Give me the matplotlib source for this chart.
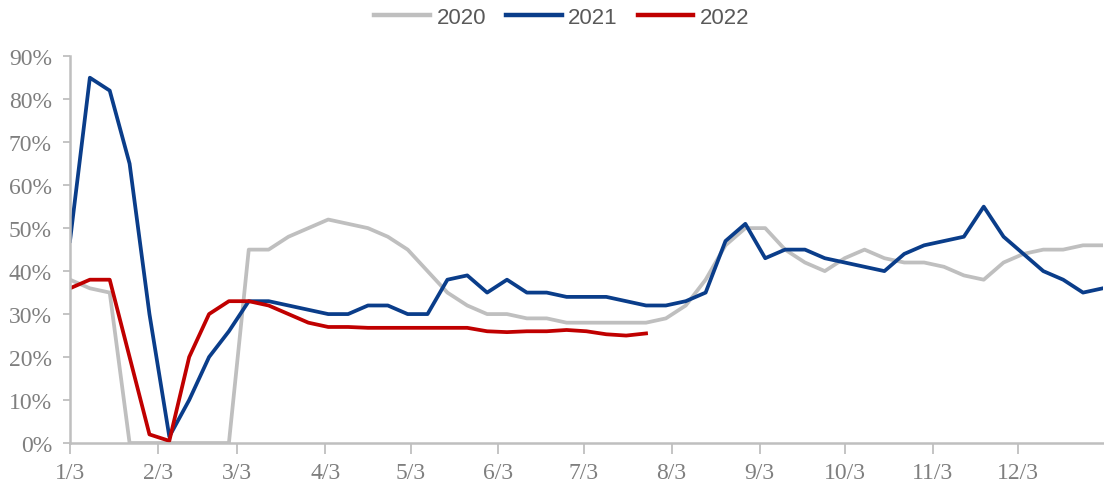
import matplotlib.pyplot as plt
import numpy as np

# weekly points, day 0 = Jan 3
y2020 = [38, 36, 35, 0, 0, 0, 0, 0, 0, 45, 45, 48, 50, 52, 51, 50, 48, 45, 40, 35,
         32, 30, 30, 29, 29, 28, 28, 28, 28, 28, 29, 32, 38, 46, 50, 50, 45, 42, 40, 43,
         45, 43, 42, 42, 41, 39, 38, 42, 44, 45, 45, 46, 46]
y2021 = [47, 85, 82, 65, 30, 1.5, 10, 20, 26, 33, 33, 32, 31, 30, 30, 32, 32, 30, 30, 38,
         39, 35, 38, 35, 35, 34, 34, 34, 33, 32, 32, 33, 35, 47, 51, 43, 45, 45, 43, 42,
         41, 40, 44, 46, 47, 48, 55, 48, 44, 40, 38, 35, 36]
y2022 = [36, 38, 38, 20, 2, 0.5, 20, 30, 33, 33, 32, 30, 28, 27, 27, 26.8, 26.8, 26.8, 26.8, 26.8,
         26.8, 26, 25.8, 26, 26, 26.3, 26, 25.3, 25, 25.5]

tick_days = [0, 31, 59, 90, 120, 151, 181, 212, 243, 273, 304, 334]
tick_labels = ['1/3', '2/3', '3/3', '4/3', '5/3', '6/3', '7/3', '8/3', '9/3', '10/3', '11/3', '12/3']

fig = plt.figure(figsize=(11.04, 4.89), dpi=100)
ax = fig.add_axes([0.0634, 0.092, 0.9356, 0.791])

lw = 2.7
ax.plot(np.arange(len(y2020)) * 7, np.array(y2020) / 100, color='#BFBFBF', lw=lw, label='2020')
ax.plot(np.arange(len(y2021)) * 7, np.array(y2021) / 100, color='#0A3D8A', lw=lw, label='2021')
ax.plot(np.arange(len(y2022)) * 7, np.array(y2022) / 100, color='#C00000', lw=lw, label='2022')

ax.set_xlim(0, 364)
ax.set_ylim(0, 0.9)
ax.set_yticks(np.arange(0, 0.91, 0.1))
ax.set_yticklabels([f'{int(round(v * 100))}%' for v in np.arange(0, 0.91, 0.1)])
ax.set_xticks(tick_days)
ax.set_xticklabels(tick_labels)

for s in ['top', 'right']:
    ax.spines[s].set_visible(False)
for s in ['left', 'bottom']:
    ax.spines[s].set_color('#BFBFBF')
    ax.spines[s].set_linewidth(1.8)

ax.tick_params(axis='y', direction='out', length=5, width=1.3, color='#BFBFBF', pad=8)
ax.tick_params(axis='x', direction='out', length=8, width=1.3, color='#BFBFBF', pad=6)
for lab in ax.get_xticklabels() + ax.get_yticklabels():
    lab.set_fontfamily('Liberation Serif')
    lab.set_fontsize(17)
    lab.set_color('#7F7F7F')

leg = fig.legend(loc='upper center', bbox_to_anchor=(0.509, 1.025), ncol=3, frameon=False,
                 handlelength=2.5, handletextpad=0.3, columnspacing=0.9,
                 prop={'family': 'Liberation Sans', 'size': 16})
for t in leg.get_texts():
    t.set_color('#595959')
for h in leg.get_lines():
    h.set_linewidth(3.2)

plt.savefig('out.png', dpi=100)
plt.close()
